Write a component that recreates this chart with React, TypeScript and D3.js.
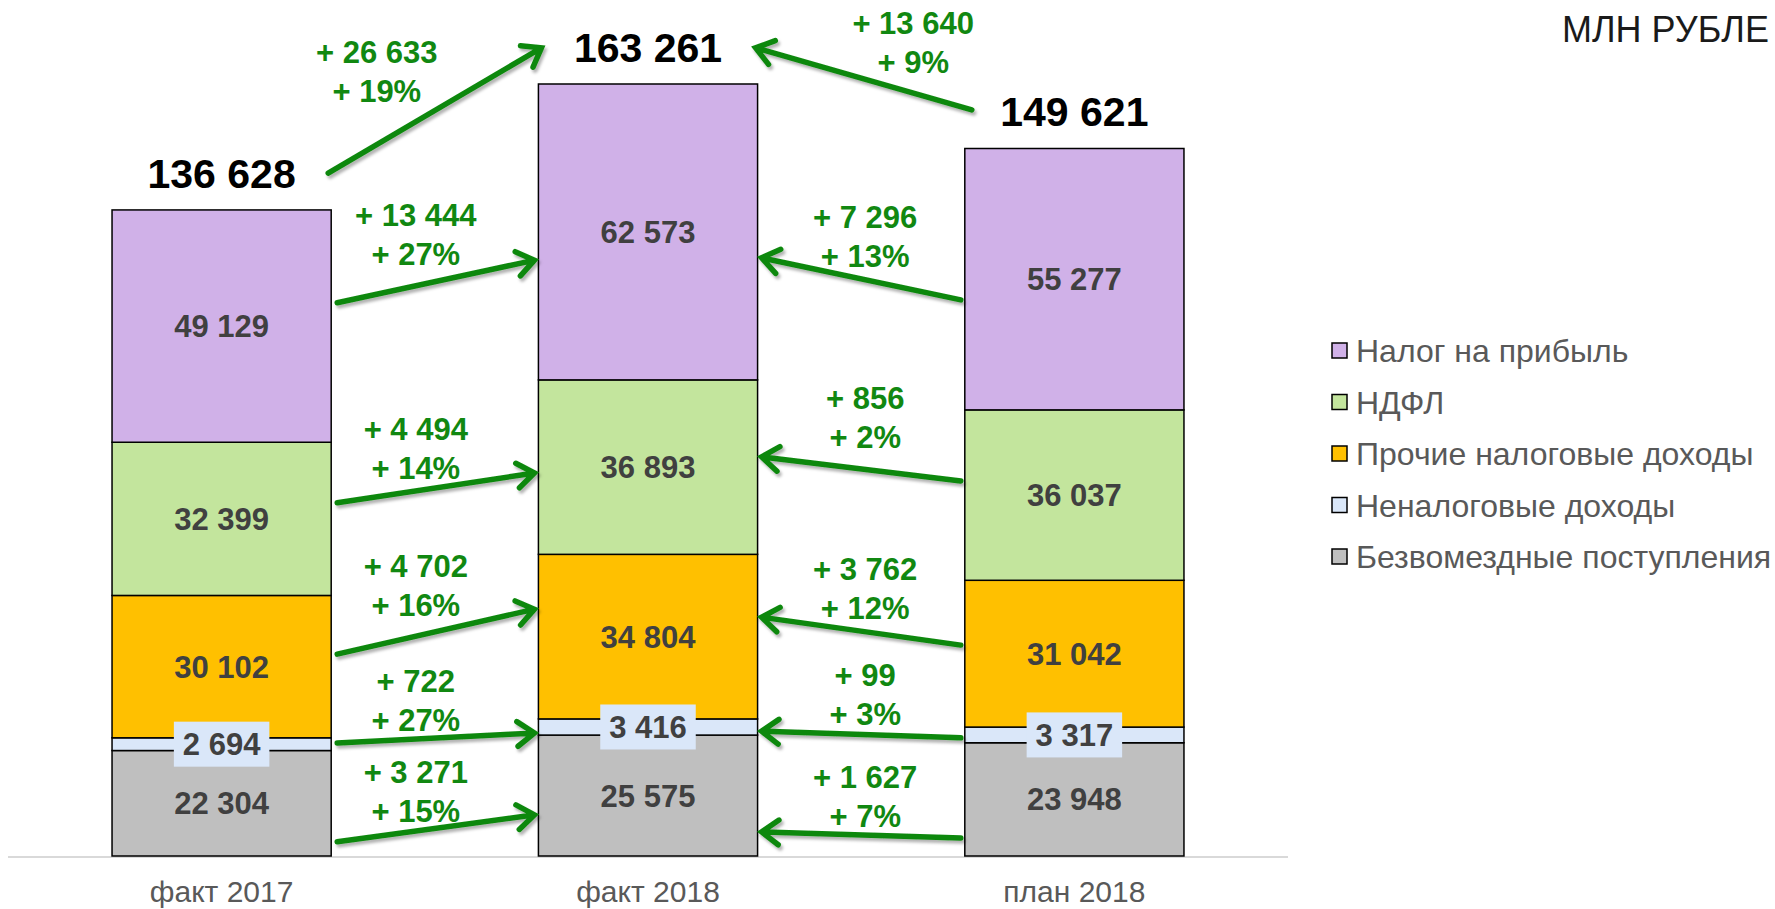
import React from 'react';
import * as d3 from 'd3';

// categories and series (bottom to top of stack)
const categories = ['факт 2017', 'факт 2018', 'план 2018'];
const seriesNames = [
  'Безвомездные поступления',
  'Неналоговые доходы',
  'Прочие налоговые доходы',
  'НДФЛ',
  'Налог на прибыль',
];
const seriesColors = ['#BFBFBF', '#DAE7F9', '#FFC000', '#C3E59D', '#D0B1E8'];

const bezvozmezdnye = [22304, 25575, 23948];
const nenalogovye = [2694, 3416, 3317];
const prochie = [30102, 34804, 31042];
const ndfl = [32399, 36893, 36037];
const nalogNaPribyl = [49129, 62573, 55277];

const unitLabel = 'МЛН РУБЛЕ';

// arrow / label anchors, in value units of the y axis (bottom series first)
const leftArrowFrom = [3000, 23900, 42700, 74700, 117000];
const leftArrowTo = [8700, 26000, 52200, 81000, 126000];
const leftLabelAt = [15400, 34700, 59000, 88000, 133200];
const rightArrowFrom = [3800, 25000, 44600, 79300, 117600];
const rightArrowTo = [5100, 26400, 50500, 84400, 126500];
const rightLabelAt = [14400, 36000, 58400, 94500, 132800];
const totalArrowFrom = [144400, 157800];
const totalArrowTo = [170900, 170900];
const totalLabelAt = [167700, 173800];

const W = 1775;
const H = 909;
const FONT = '"Liberation Sans", Arial, sans-serif';
const GREEN = '#118811';

const fmt = (v: number) => d3.format(',')(v).replace(/,/g, ' ');

const Arrow = ({ x1, y1, x2, y2 }: { x1: number; y1: number; x2: number; y2: number }) => {
  const a = Math.atan2(y2 - y1, x2 - x1);
  const L = 21;
  const th = (36 * Math.PI) / 180;
  const ax1 = x2 - L * Math.cos(a - th);
  const ay1 = y2 - L * Math.sin(a - th);
  const ax2 = x2 - L * Math.cos(a + th);
  const ay2 = y2 - L * Math.sin(a + th);
  const sx = x2 - 3 * Math.cos(a);
  const sy = y2 - 3 * Math.sin(a);
  return (
    <g filter="url(#shadow)">
      <path
        d={`M${x1},${y1}L${sx},${sy}M${ax1},${ay1}L${x2},${y2}L${ax2},${ay2}`}
        fill="none"
        stroke={GREEN}
        strokeWidth={5.5}
        strokeLinecap="round"
        strokeLinejoin="miter"
      />
    </g>
  );
};

const App = () => {
  const table = categories.map((c, i) => ({
    cat: c,
    [seriesNames[0]]: bezvozmezdnye[i],
    [seriesNames[1]]: nenalogovye[i],
    [seriesNames[2]]: prochie[i],
    [seriesNames[3]]: ndfl[i],
    [seriesNames[4]]: nalogNaPribyl[i],
  }));
  const stacked = d3.stack<any>().keys(seriesNames)(table);
  const totals = table.map((_, i) => stacked[stacked.length - 1][i][1]);

  const x = d3.scaleBand().domain(categories).range([8, 1288]).paddingInner(0.486).paddingOuter(0.244);
  const y = d3.scaleLinear().domain([0, d3.max(totals) as number]).range([856, 84]);
  const bw = x.bandwidth();

  const left = (c: string) => x(c) as number;
  const right = (c: string) => (x(c) as number) + bw;
  const mid = (c: string) => (x(c) as number) + bw / 2;

  const [c0, c1, c2] = categories;
  const pct = (d: number, base: number) => `+ ${Math.round((d / base) * 100)}%`;

  const legendY = d3.scalePoint().domain([...seriesNames].reverse()).range([351, 557]);

  const greenLabel = (cx: number, yb: number, l1: string, l2: string, key: string) => (
    <text key={key} x={cx} y={yb} textAnchor="middle" fontFamily={FONT} fontWeight="bold" fontSize={31} fill={GREEN}>
      <tspan x={cx}>{l1}</tspan>
      <tspan x={cx} dy={39}>{l2}</tspan>
    </text>
  );

  const gapL = (right(c0) + left(c1)) / 2;
  const gapR = (right(c1) + left(c2)) / 2;

  return (
    <svg width={W} height={H} style={{ position: 'absolute', left: 0, top: 0, background: '#fff' }}>
      <defs>
        <filter id="shadow" x="-20%" y="-50%" width="140%" height="200%">
          <feDropShadow dx={2} dy={3} stdDeviation={1.8} floodColor="#000" floodOpacity={0.3} />
        </filter>
      </defs>

      {/* baseline */}
      <line x1={8} x2={1288} y1={y(0) + 1} y2={y(0) + 1} stroke="#D9D9D9" strokeWidth={2} />

      {/* bars */}
      {stacked.map((layer, si) => (
        <g key={layer.key}>
          {layer.map((d, ci) => (
            <rect
              key={ci}
              x={left(categories[ci])}
              y={y(d[1])}
              width={bw}
              height={y(d[0]) - y(d[1])}
              fill={seriesColors[si]}
              stroke="#000"
              strokeWidth={1.5}
            />
          ))}
        </g>
      ))}

      {/* segment values */}
      {stacked.map((layer, si) =>
        layer.map((d, ci) => {
          const cx = mid(categories[ci]);
          const cy = (y(d[0]) + y(d[1])) / 2;
          const v = d[1] - d[0];
          const label = fmt(v);
          const small = si === 1;
          const tw = label.length * 15.5;
          return (
            <g key={`${si}-${ci}`}>
              {small && <rect x={cx - tw / 2 - 9} y={cy - 22.5} width={tw + 18} height={45} fill={seriesColors[si]} />}
              <text
                x={cx}
                y={cy + 11}
                textAnchor="middle"
                fontFamily={FONT}
                fontWeight="bold"
                fontSize={31}
                fill="#404040"
              >
                {label}
              </text>
            </g>
          );
        })
      )}

      {/* totals */}
      {categories.map((c, i) => (
        <text key={c} x={mid(c)} y={y(totals[i]) - 22} textAnchor="middle" fontFamily={FONT} fontWeight="bold" fontSize={41} fill="#000">
          {fmt(totals[i])}
        </text>
      ))}

      {/* arrows between segments */}
      {stacked.map((layer, si) => {
        const a = layer[0][1] - layer[0][0];
        const b = layer[1][1] - layer[1][0];
        const c = layer[2][1] - layer[2][0];
        return (
          <g key={`arr-${si}`}>
            <Arrow x1={right(c0) + 6} y1={y(leftArrowFrom[si])} x2={left(c1) - 4} y2={y(leftArrowTo[si])} />
            <Arrow x1={left(c2) - 4} y1={y(rightArrowFrom[si])} x2={right(c1) + 4} y2={y(rightArrowTo[si])} />
            {greenLabel(gapL - 19, y(leftLabelAt[si]), `+ ${fmt(b - a)}`, pct(b - a, a), `ll-${si}`)}
            {greenLabel(gapR + 4, y(rightLabelAt[si]), `+ ${fmt(b - c)}`, pct(b - c, c), `rl-${si}`)}
          </g>
        );
      })}

      {/* arrows between totals */}
      <Arrow x1={right(c0) - 3} y1={y(totalArrowFrom[0])} x2={left(c1) + 3} y2={y(totalArrowTo[0])} />
      <Arrow x1={left(c2) + 7} y1={y(totalArrowFrom[1])} x2={right(c1) - 2} y2={y(totalArrowTo[1])} />
      {greenLabel(gapL - 58, y(totalLabelAt[0]), `+ ${fmt(totals[1] - totals[0])}`, pct(totals[1] - totals[0], totals[0]), 'tl')}
      {greenLabel(gapR + 52, y(totalLabelAt[1]), `+ ${fmt(totals[1] - totals[2])}`, pct(totals[1] - totals[2], totals[2]), 'tr')}

      {/* category axis labels */}
      {categories.map((c) => (
        <text key={c} x={mid(c)} y={902} textAnchor="middle" fontFamily={FONT} fontSize={30} fill="#595959">
          {c}
        </text>
      ))}

      {/* legend */}
      {[...seriesNames].reverse().map((s) => {
        const idx = seriesNames.indexOf(s);
        const ly = legendY(s) as number;
        return (
          <g key={s}>
            <rect x={1332} y={ly - 8} width={15} height={15} fill={seriesColors[idx]} stroke="#000" strokeWidth={1.5} />
            <text x={1356} y={ly + 11} fontFamily={FONT} fontSize={32} fill="#595959">
              {s}
            </text>
          </g>
        );
      })}

      {/* unit label */}
      <text x={1562} y={42} fontFamily={FONT} fontSize={36} fill="#1A1A1A">
        {unitLabel}
      </text>
    </svg>
  );
};

export default App;
